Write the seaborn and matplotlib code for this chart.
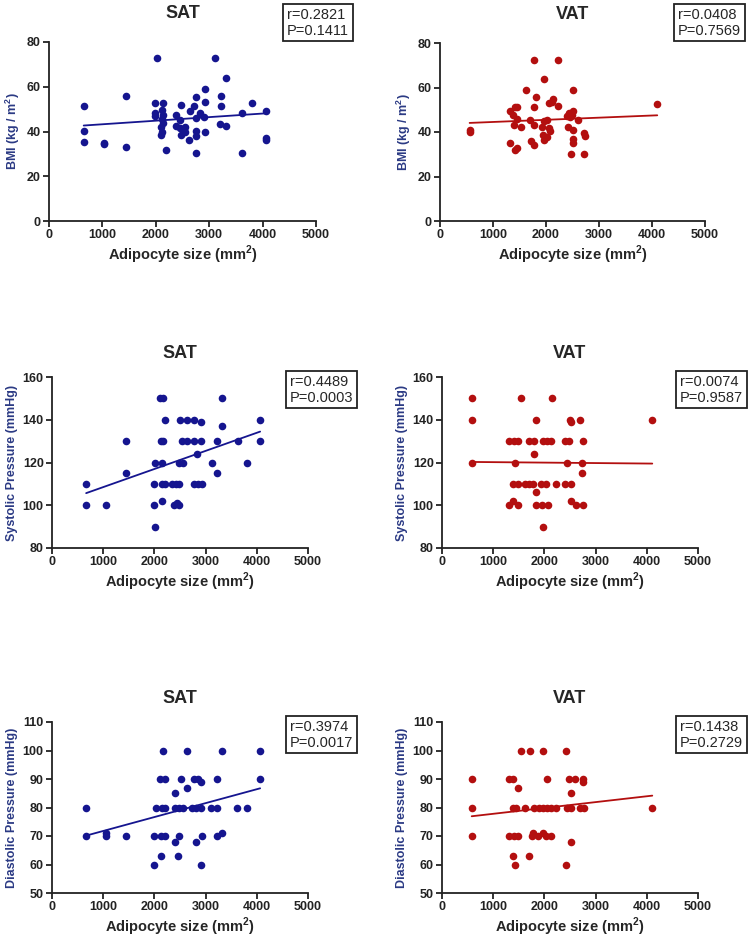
import numpy as np
import pandas as pd
import matplotlib
matplotlib.use("Agg")
import matplotlib.pyplot as plt
import seaborn as sns

# SAT - BMI
sat_bmi_x = [650, 650, 650, 1025, 1025, 1437, 1437, 2031, 1994, 1987, 1987, 2137, 2125, 2137,
             2125, 2137, 2106, 2125, 2106, 2187, 2387, 2387, 2450, 2469, 2450, 2481, 2512, 2544,
             2544, 2625, 2637, 2719, 2762, 2762, 2762, 2762, 2762, 2825, 2900, 2919, 2919, 2919,
             3106, 3212, 3212, 3200, 3312, 3312, 3619, 3619, 3806, 4056, 4056, 4056]
sat_bmi_y = [51.6, 40.2, 35.4, 35.0, 34.2, 55.9, 33.0, 72.8, 52.9, 48.1, 46.9, 52.9, 49.6, 47.4,
             45.4, 43.9, 42.2, 39.9, 38.4, 31.7, 47.4, 42.5, 45.1, 51.9, 41.4, 38.4, 40.7, 42.2,
             39.9, 36.2, 49.2, 51.4, 55.2, 45.9, 40.4, 38.0, 30.2, 48.1, 46.6, 58.9, 53.1, 39.9,
             72.8, 55.9, 51.4, 43.3, 64.1, 42.5, 48.1, 30.6, 52.9, 49.3, 36.9, 36.2]

# VAT - BMI
vat_bmi_x = [559, 559, 1323, 1323, 1410, 1460, 1385, 1398, 1460, 1534, 1410, 1460, 1615, 1783,
             1820, 1783, 1696, 1770, 1708, 1783, 1957, 1957, 1925, 1944, 1969, 2019, 2050, 2081,
             2050, 2130, 2110, 2217, 2224, 2019, 2404, 2441, 2450, 2516, 2503, 2485, 2422, 2503,
             2596, 2466, 2503, 2503, 2720, 2733, 2720, 4099]
vat_bmi_y = [40.7, 39.9, 49.3, 35.1, 51.2, 51.2, 47.8, 43.3, 45.8, 42.2, 31.8, 32.8, 58.7, 72.5,
             55.7, 51.2, 45.2, 43.3, 35.8, 34.0, 64.0, 44.8, 42.2, 38.8, 36.6, 37.8, 41.8, 40.3,
             53.0, 54.8, 53.3, 51.5, 72.5, 45.5, 47.3, 48.5, 46.7, 58.7, 49.3, 47.8, 42.2, 40.7,
             45.2, 30.3, 36.9, 35.1, 39.6, 38.0, 30.3, 52.7]

# SAT - Systolic
sat_sys_x = [667, 667, 1046, 1451, 1451, 1993, 2007, 2013, 1993, 2111, 2176, 2137, 2176, 2203,
             2157, 2144, 2209, 2144, 2353, 2431, 2484, 2386, 2438, 2471, 2484, 2549, 2503, 2627,
             2765, 2536, 2634, 2765, 2908, 2908, 2824, 2765, 2843, 2928, 3118, 3222, 3222, 3320,
             3320, 3627, 3810, 4065, 4065]
sat_sys_y = [110, 100, 100, 130, 115, 100, 90, 120, 110, 150, 150, 130, 130, 140,
             120, 110, 110, 102, 110, 110, 110, 100, 101, 100, 120, 120, 140, 140,
             140, 130, 130, 130, 130, 139, 124, 110, 110, 110, 120, 115, 130, 150,
             137, 130, 120, 140, 130]

# VAT - Systolic
vat_sys_x = [580, 580, 580, 1545, 2145, 1838, 2503, 2523, 2699, 4107, 1317, 1401, 1493, 1695,
             1793, 1969, 2053, 2132, 2412, 2490, 2751, 1793, 1428, 2438, 2738, 2738, 1382, 1480,
             1630, 1708, 1786, 1936, 2034, 2229, 2412, 2523, 1838, 1317, 1395, 1480, 1838, 1956,
             2066, 2523, 2608, 2751, 1982]
vat_sys_y = [150, 140, 120, 150, 150, 140, 140, 139, 140, 140, 130, 130, 130, 130,
             130, 130, 130, 130, 130, 130, 130, 124, 120, 120, 120, 115, 110, 110,
             110, 110, 110, 110, 110, 110, 110, 110, 106, 100, 102, 100, 100, 100,
             100, 102, 100, 100, 90]

# SAT - Diastolic
sat_dia_x = [667, 667, 1046, 1046, 1451, 1993, 1993, 2026, 2137, 2124, 2203, 2105, 2203, 2170,
             2144, 2203, 2399, 2399, 2399, 2484, 2549, 2464, 2484, 2516, 2634, 2634, 2732, 2778,
             2843, 2908, 2810, 2908, 2810, 2922, 2908, 3105, 3222, 3222, 3222, 3320, 3320, 3614,
             3810, 4065, 4065]
sat_dia_y = [80, 70, 71, 70, 70, 70, 60, 80, 63, 70, 70, 90, 90, 100,
             80, 80, 85, 68, 80, 80, 80, 63, 70, 90, 100, 87, 80, 90,
             90, 89, 80, 80, 68, 70, 60, 80, 80, 90, 70, 71, 100, 80,
             80, 100, 90]

# VAT - Diastolic
vat_dia_x = [580, 580, 580, 1317, 1395, 1493, 1395, 1447, 1317, 1401, 1493, 1395, 1434, 1545,
             1721, 1630, 1708, 1982, 2053, 1806, 1891, 1969, 2053, 2132, 2229, 1773, 1760, 1871,
             1969, 2034, 2132, 2425, 2490, 2601, 2523, 2438, 2523, 2523, 2425, 2751, 2751, 2699,
             2764, 4107]
vat_dia_y = [90, 80, 70, 90, 90, 87, 80, 80, 70, 70, 70, 63, 60, 100,
             100, 80, 63, 100, 90, 80, 80, 80, 80, 80, 80, 71, 70, 70,
             71, 70, 70, 100, 90, 90, 85, 80, 80, 68, 60, 90, 89, 80,
             80, 80]

stats_text = ["r=0.2821\nP=0.1411", "r=0.0408\nP=0.7569",
              "r=0.4489\nP=0.0003", "r=0.0074\nP=0.9587",
              "r=0.3974\nP=0.0017", "r=0.1438\nP=0.2729"]
titles = ["SAT", "VAT"] * 3
ylabels = ["BMI (kg / m$^\\mathbf{2}$)"] * 2 + ["Systolic Pressure (mmHg)"] * 2 + \
          ["Diastolic Pressure (mmHg)"] * 2
ylims = [(0, 80), (0, 80), (80, 160), (80, 160), (50, 110), (50, 110)]
ysteps = [20, 20, 20, 20, 10, 10]

blue = "#15158f"
red = "#b30f0f"

sns.set_style("ticks")
plt.rcParams["font.family"] = ["Liberation Sans", "DejaVu Sans"]
plt.rcParams["mathtext.fontset"] = "custom"
plt.rcParams["mathtext.rm"] = "Liberation Sans"
plt.rcParams["mathtext.bf"] = "Liberation Sans:bold"

fig = plt.figure(figsize=(7.49, 9.39), dpi=100)

# axes boxes in pixels: left, right, top, bottom
boxes = [(49, 316, 42, 221), (440, 705, 43, 221),
         (52, 308, 377, 548), (442, 698, 377, 548),
         (52, 308, 722, 893), (442, 698, 722, 893)]
title_pads = [17, 17, 14, 14, 14, 14]
text_pos = [(287, 8), (678, 8), (290, 375), (680, 375), (290, 720), (680, 720)]

datasets = [(sat_bmi_x, sat_bmi_y, blue), (vat_bmi_x, vat_bmi_y, red),
            (sat_sys_x, sat_sys_y, blue), (vat_sys_x, vat_sys_y, red),
            (sat_dia_x, sat_dia_y, blue), (vat_dia_x, vat_dia_y, red)]

W, H = 749, 939
for i, (x, y, c) in enumerate(datasets):
    l, r, t, b = boxes[i]
    ax = fig.add_axes([l / W, 1 - b / H, (r - l) / W, (b - t) / H])
    df = pd.DataFrame({"size": x, "val": y})
    sns.regplot(data=df, x="size", y="val", ax=ax, ci=None, color=c,
                scatter_kws={"s": 30, "linewidths": 0, "alpha": 1, "clip_on": False},
                line_kws={"lw": 1.3})
    ax.set_xlim(0, 5000)
    ax.set_ylim(*ylims[i])
    ax.set_xticks(np.arange(0, 5001, 1000))
    ax.set_yticks(np.arange(ylims[i][0], ylims[i][1] + 1, ysteps[i]))
    sns.despine(ax=ax)
    for s in ["left", "bottom"]:
        ax.spines[s].set_linewidth(1.3)
        ax.spines[s].set_color("#222222")
    ax.tick_params(width=1.3, length=4, labelsize=9, colors="#222222", pad=2)
    for lab in ax.get_xticklabels() + ax.get_yticklabels():
        lab.set_fontweight("bold")
    ax.set_xlabel("Adipocyte size (mm$^\\mathbf{2}$)", fontsize=10.5,
                  fontweight="bold", labelpad=2)
    ax.set_ylabel(ylabels[i], fontsize=9, fontweight="bold", color="#2b3a84", labelpad=3)
    ax.set_title(titles[i], fontsize=13, fontweight="bold", pad=title_pads[i])
    tx, ty = text_pos[i]
    fig.text(tx / W, 1 - ty / H, stats_text[i], ha="left", va="top", fontsize=10.5,
             linespacing=1.15,
             bbox=dict(boxstyle="square,pad=0.25", fc="white", ec="#222222", lw=1.3))

fig.savefig("out.png", dpi=100)
